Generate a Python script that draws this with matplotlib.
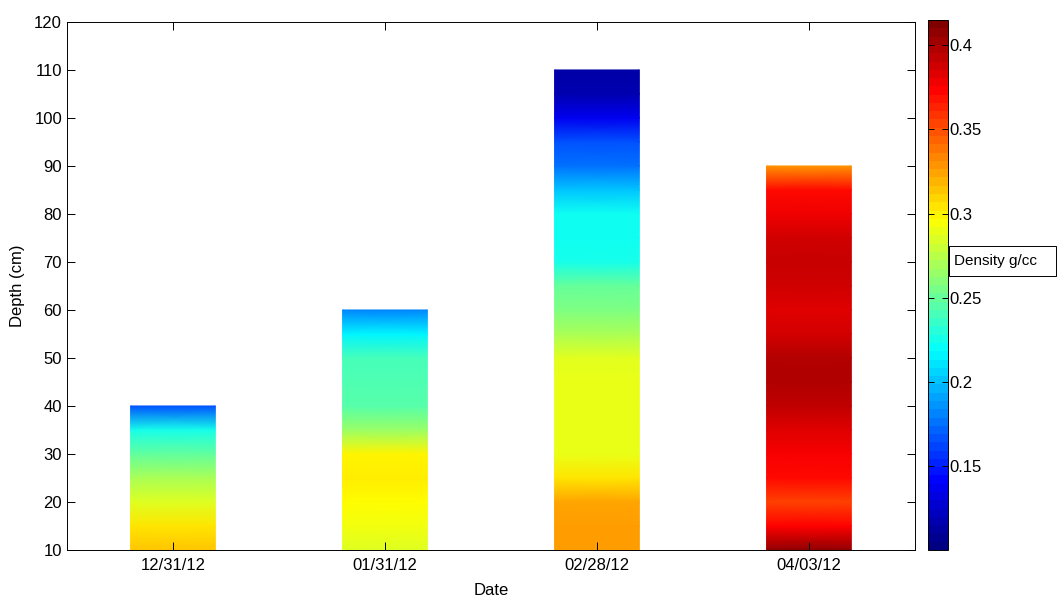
import numpy as np
import matplotlib
matplotlib.use("Agg")
import matplotlib.pyplot as plt
from matplotlib.colors import Normalize, LinearSegmentedColormap
from matplotlib.patches import Rectangle

plt.rcParams['font.family'] = ['Liberation Sans', 'DejaVu Sans']

# dates and density profiles (depth in cm, density g/cc)
dates = ["12/31/12", "01/31/12", "02/28/12", "04/03/12"]

depth_1 = [10, 15, 20, 25, 30, 35, 40]
dens_1 = [0.315, 0.305, 0.287, 0.270, 0.248, 0.225, 0.165]

depth_2 = [10, 15, 20, 25, 30, 35, 40, 45, 50, 55, 60]
dens_2 = [0.287, 0.293, 0.298, 0.303, 0.300, 0.265, 0.245, 0.242, 0.240, 0.215, 0.180]

depth_3 = [10, 15, 20, 25, 30, 35, 40, 45, 50, 55, 60, 65, 70, 75, 80, 85, 90, 95, 100, 105, 110]
dens_3 = [0.327, 0.327, 0.325, 0.305, 0.290, 0.290, 0.290, 0.290, 0.288, 0.270, 0.257,
          0.250, 0.225, 0.222, 0.222, 0.200, 0.175, 0.165, 0.135, 0.115, 0.113]

depth_4 = [10, 15, 20, 25, 30, 35, 40, 45, 50, 55, 60, 65, 70, 75, 80, 85, 90]
dens_4 = [0.410, 0.375, 0.355, 0.372, 0.378, 0.385, 0.395, 0.400, 0.398, 0.388,
          0.385, 0.390, 0.392, 0.390, 0.380, 0.372, 0.330]

depths = [depth_1, depth_2, depth_3, depth_4]
dens = [dens_1, dens_2, dens_3, dens_4]

vmin, vmax = 0.1, 0.415
bar_w = 0.4

# MATLAB style jet
jet_pts = [(0.0, (0, 0, 0.5)), (0.125, (0, 0, 1)), (0.375, (0, 1, 1)),
           (0.625, (1, 1, 0)), (0.875, (1, 0, 0)), (1.0, (0.5, 0, 0))]
mjet = LinearSegmentedColormap.from_list('mjet', jet_pts)
mjet64 = LinearSegmentedColormap.from_list('mjet64', jet_pts, N=64)

fig = plt.figure(figsize=(10.58, 5.98), dpi=100)
ax = fig.add_axes([0.0633, 0.0803, 0.8015, 0.883])
cax = fig.add_axes([0.877, 0.0803, 0.0189, 0.886])

norm = Normalize(vmin=vmin, vmax=vmax)

for i, (d, rho) in enumerate(zip(depths, dens)):
    xc = i + 1
    xs = np.array([xc - bar_w / 2, xc + bar_w / 2])
    ys = np.array(d, dtype=float)
    C = np.column_stack([rho, rho])
    ax.pcolormesh(xs, ys, C, shading='gouraud', cmap=mjet, norm=norm)

ax.set_xlim(0.5, 4.5)
ax.set_ylim(10, 120)
ax.set_xticks(range(1, 5))
ax.set_xticklabels(dates)
ax.set_yticks(range(10, 121, 10))
ax.tick_params(direction='in', length=6, top=True, right=True, labelsize=12, width=0.7)
ax.tick_params(axis='x', pad=6)
for s in ax.spines.values():
    s.set_linewidth(0.7)
ax.set_xlabel("Date", fontsize=12, labelpad=7)
ax.set_ylabel("Depth (cm)", fontsize=12, labelpad=7)

sm = plt.cm.ScalarMappable(norm=norm, cmap=mjet64)
cb = fig.colorbar(sm, cax=cax)
cb.set_ticks([0.15, 0.2, 0.25, 0.3, 0.35, 0.4])
cb.set_ticklabels(["0.15", "0.2", "0.25", "0.3", "0.35", "0.4"])
cax.tick_params(direction='in', length=4, labelsize=12, width=0.7, pad=1,
                left=True, right=True)
cb.outline.set_linewidth(0.7)

# label box next to the colorbar
fig.patches.append(Rectangle((949 / 1058, 1 - 276 / 598), 107 / 1058, 30 / 598,
                             transform=fig.transFigure, facecolor='white',
                             edgecolor='black', linewidth=0.7))
fig.text(954 / 1058, 1 - 261 / 598, "Density g/cc", fontsize=11, ha='left', va='center')

fig.savefig("out.png", dpi=100)
